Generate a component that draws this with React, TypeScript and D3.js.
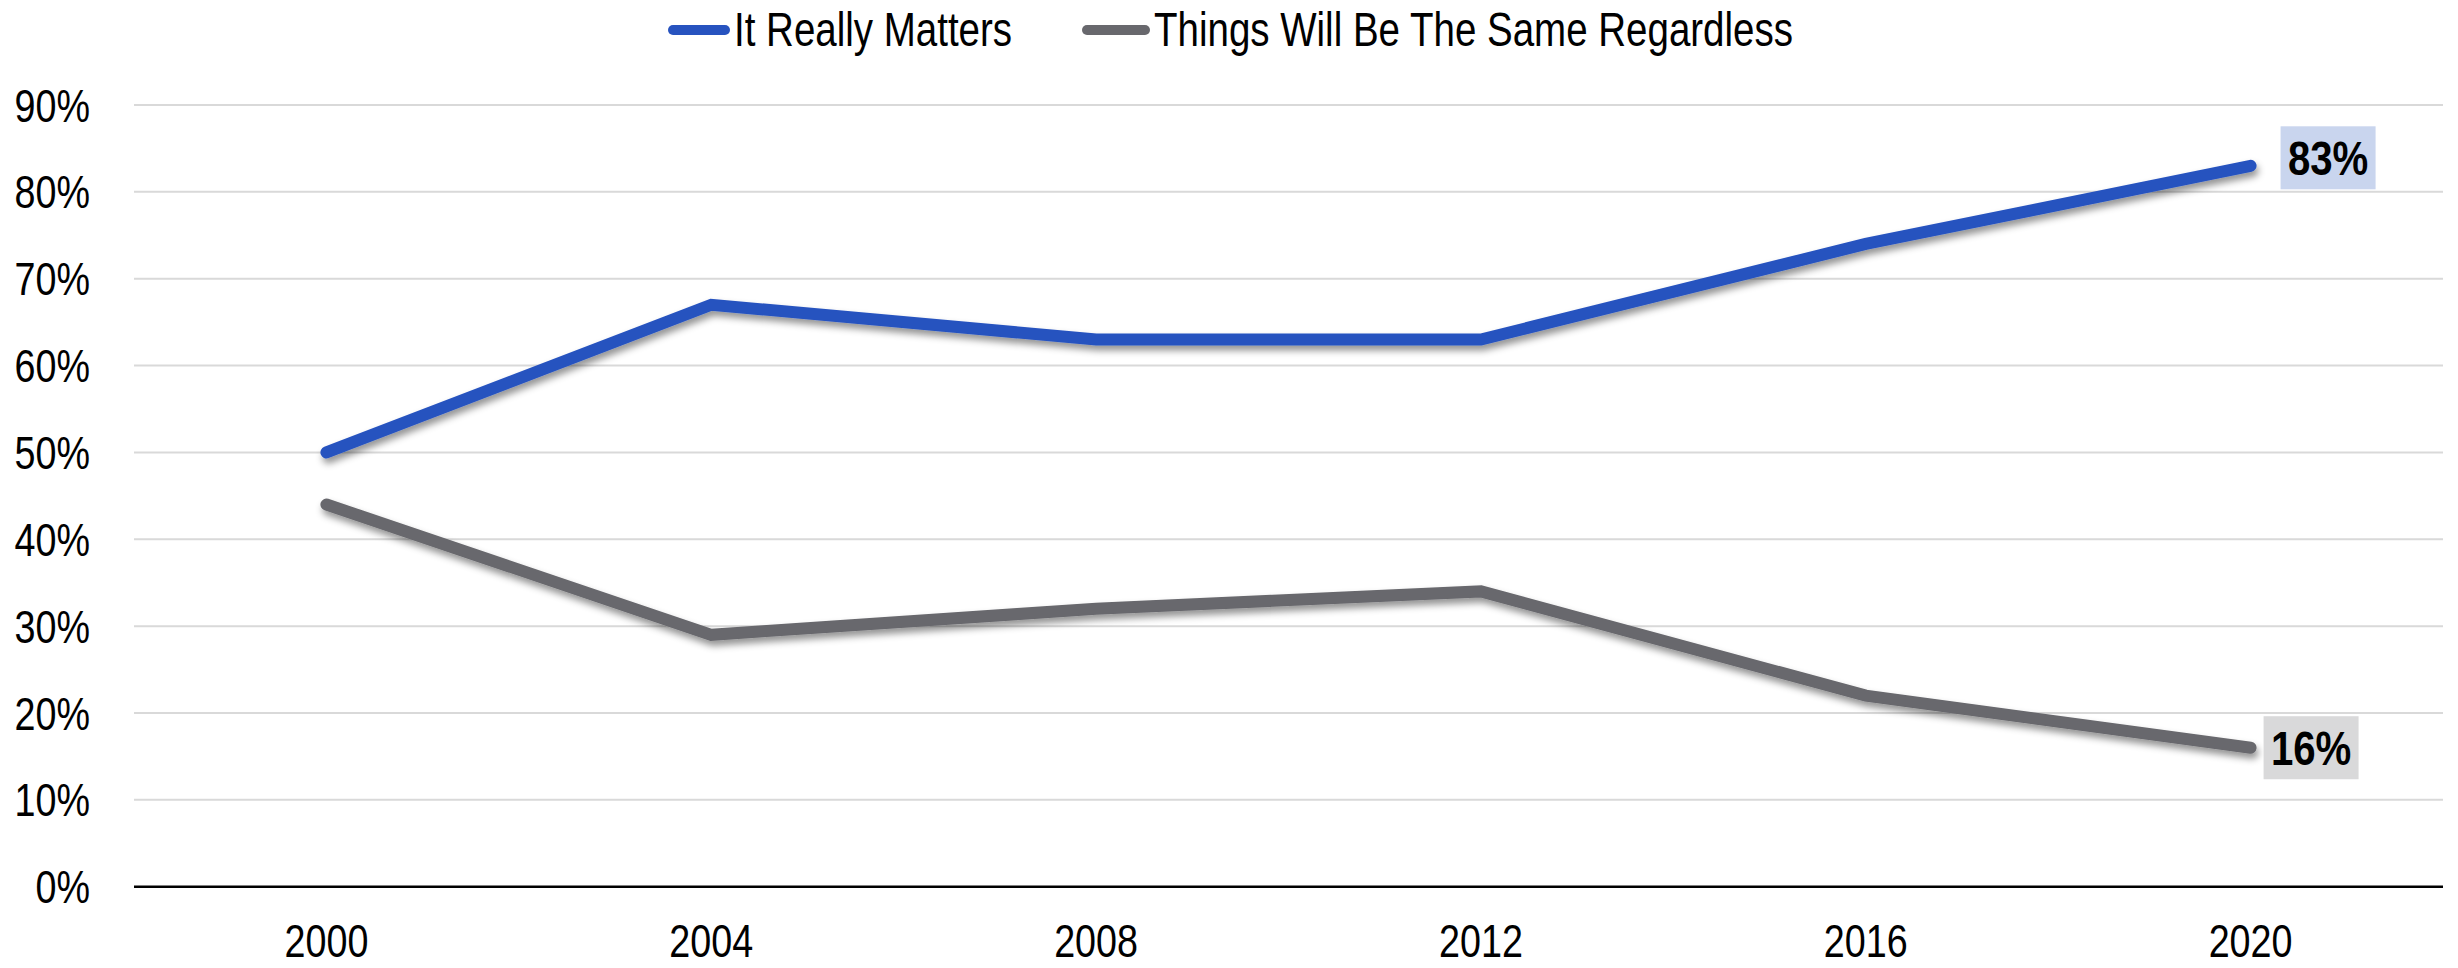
import React, { useEffect } from "react";
import * as d3 from "d3";

const years = ["2000", "2004", "2008", "2012", "2016", "2020"];
const reallyMatters = [50, 67, 63, 63, 74, 83];
const sameRegardless = [44, 29, 32, 34, 22, 16];
const yTicks = [0, 10, 20, 30, 40, 50, 60, 70, 80, 90];
const seriesNames = ["It Really Matters", "Things Will Be The Same Regardless"];

const W = 2458;
const H = 968;
const FONT = "'Liberation Sans Narrow', 'Arial Narrow', 'Liberation Sans', Arial, sans-serif";
const BLUE = "#2753BF";
const GRAY = "#68686D";

function NText(props: {
  x: number;
  y: number;
  size: number;
  sx?: number;
  anchor?: "start" | "middle" | "end";
  bold?: boolean;
  dy?: string;
  children: React.ReactNode;
}) {
  const sx = props.sx ?? 0.82;
  return (
    <g transform={`translate(${props.x},${props.y}) scale(${sx},1)`}>
      <text
        x={0}
        y={0}
        dy={props.dy}
        textAnchor={props.anchor || "start"}
        fontSize={props.size}
        fontWeight={props.bold ? "bold" : "normal"}
        fill="#000"
      >
        {props.children}
      </text>
    </g>
  );
}

export default function App() {
  useEffect(() => {
    document.body.style.margin = "0";
  }, []);

  const left = 134;
  const right = 2443;
  const x = d3.scaleBand<string>().domain(years).range([left, right]).padding(0);
  const y = d3.scaleLinear().domain([0, 90]).range([886.7, 105]);
  const cx = (yr: string) => (x(yr) as number) + x.bandwidth() / 2;

  const line = d3
    .line<number>()
    .x((_, i) => cx(years[i]))
    .y((d) => y(d));

  const series = [
    { name: seriesNames[0], values: reallyMatters, color: BLUE, box: "#C9D5EE", dx: 30, dy: -8 },
    { name: seriesNames[1], values: sameRegardless, color: GRAY, box: "#D9D9DA", dx: 13, dy: 0 },
  ];

  const legendItems = [
    { name: seriesNames[0], color: BLUE, x0: 668, x1: 730 },
    { name: seriesNames[1], color: GRAY, x0: 1082, x1: 1150 },
  ];

  return (
    <svg width={W} height={H} style={{ display: "block", background: "#fff" }} fontFamily={FONT}>
      <defs>
        <filter id="shadow" x="-5%" y="-20%" width="110%" height="150%">
          <feDropShadow dx="2" dy="5" stdDeviation="3.5" floodColor="#000" floodOpacity="0.42" />
        </filter>
      </defs>

      {/* gridlines */}
      {yTicks.filter((t) => t > 0).map((t) => (
        <line key={t} x1={left} x2={right} y1={y(t)} y2={y(t)} stroke="#D9D9D9" strokeWidth={2} />
      ))}
      <line x1={left} x2={right} y1={y(0)} y2={y(0)} stroke="#000" strokeWidth={2.5} />

      {/* y labels */}
      {yTicks.map((t) => (
        <NText key={t} x={90} y={y(t)} dy="0.36em" anchor="end" size={46}>
          {t}%
        </NText>
      ))}

      {/* x labels */}
      {years.map((yr) => (
        <NText key={yr} x={cx(yr)} y={957} anchor="middle" size={46}>
          {yr}
        </NText>
      ))}

      {/* lines */}
      {series.map((s) => (
        <path
          key={s.name}
          d={line(s.values) as string}
          fill="none"
          stroke={s.color}
          strokeWidth={12}
          strokeLinecap="round"
          strokeLinejoin="miter"
          filter="url(#shadow)"
        />
      ))}

      {/* end labels */}
      {series.map((s) => {
        const last = s.values.length - 1;
        const px = cx(years[last]);
        const py = y(s.values[last]);
        const bw = 95;
        const bh = 63;
        const bx = px + s.dx;
        const by = py + s.dy - bh / 2;
        return (
          <g key={s.name + "-lbl"}>
            <rect x={bx} y={by} width={bw} height={bh} fill={s.box} />
            <NText x={bx + bw / 2} y={by + bh / 2} dy="0.36em" anchor="middle" size={49} bold>
              {s.values[last]}%
            </NText>
          </g>
        );
      })}

      {/* legend */}
      {legendItems.map((l) => (
        <g key={l.name}>
          <line x1={l.x0 + 5} x2={l.x1 - 5} y1={30} y2={30} stroke={l.color} strokeWidth={10} strokeLinecap="round" />
          <NText x={l.x1 + 4} y={46} size={49} sx={0.786}>
            {l.name}
          </NText>
        </g>
      ))}
    </svg>
  );
}
